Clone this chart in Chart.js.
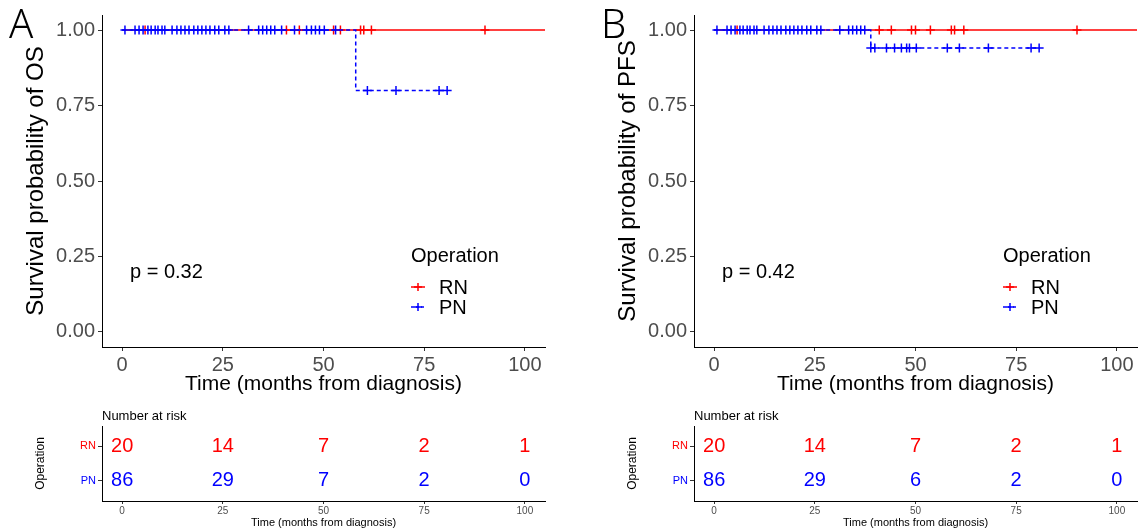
<!DOCTYPE html>
<html>
<head>
<meta charset="utf-8">
<script src="https://cdn.jsdelivr.net/npm/chart.js@4"></script>
<style>
  body { margin: 0; background: #fff; }
  .box { position: absolute; }
</style>
</head>
<body>
<div class="box" style="left:0;top:0;width:573px;height:400px"><canvas id="kmA"></canvas></div>
<div class="box" style="left:0;top:400px;width:573px;height:132px"><canvas id="riskA"></canvas></div>
<div class="box" style="left:592px;top:0;width:554px;height:400px"><canvas id="kmB"></canvas></div>
<div class="box" style="left:592px;top:400px;width:554px;height:132px"><canvas id="riskB"></canvas></div>
<script>
// axes / categories
const xTicks = [0, 25, 50, 75, 100];
const yTicks = [0, 0.25, 0.5, 0.75, 1];
const groups = ["RN", "PN"];

// panel A - overall survival
const osRnCensor = [5.7, 40.8, 44, 52.5, 54.2, 59.2, 60, 61.9, 90.1];
const osRnLast = 105;
const osPnEvents = [58];
const osPnSurv = [0.8];
const osPnCensor = [0.7, 3.2, 4.2, 5.2, 6.4, 7.2, 8.2, 8.9, 9.9, 10.6, 12.4, 13.6, 14.6,
  15.6, 16.6, 17.8, 18.8, 19.8, 20.8, 21.8, 23, 24, 25.5, 26.5, 31.4, 33.9, 34.9, 35.9,
  36.9, 37.9, 39.6, 42.8, 45.8, 47, 48, 49, 50.2, 53, 60.9, 68, 78.7, 80.7];
const osRiskRn = [20, 14, 7, 2, 1];
const osRiskPn = [86, 29, 7, 2, 0];

// panel B - progression free survival
const pfsRnCensor = [5.7, 41, 44, 49, 50, 53.7, 58.9, 59.7, 62, 90.1];
const pfsRnLast = 105;
const pfsPnEvents = [38.9];
const pfsPnSurv = [0.941];
const pfsPnCensor = [0.7, 3.2, 4.2, 5.2, 6.4, 7.2, 8.2, 8.9, 9.9, 10.6, 12.4, 13.6, 14.6,
  15.6, 16.6, 17.8, 18.8, 19.8, 20.8, 21.8, 23, 24, 25.5, 26.5, 31.2, 33.4, 34.4, 35.4,
  36.4, 37.4, 38.9, 39.9, 42.8, 44.8, 46.5, 47.8, 48.5, 50.2, 57.9, 60.9, 68.1, 78.7, 80.7];
const pfsRiskRn = [20, 14, 7, 2, 1];
const pfsRiskPn = [86, 29, 6, 2, 0];

const FONT = "'Liberation Sans', Arial, sans-serif";
const RED = "#FF0000";
const BLUE = "#0000FF";
const GREY = "#4D4D4D";

function survAt(events, surv, t) {
  let s = 1;
  events.forEach((e, i) => { if (e <= t) s = surv[i]; });
  return s;
}

function stepLine(events, surv, last) {
  const pts = [{ x: 0, y: 1 }];
  events.forEach((e, i) => pts.push({ x: e, y: surv[i] }));
  pts.push({ x: last, y: pts[pts.length - 1].y });
  return pts;
}

function drawCross(ctx, x, y, color, dashed) {
  ctx.save();
  ctx.strokeStyle = color;
  ctx.lineWidth = 1.5;
  if (dashed) ctx.setLineDash([3, 2]);
  ctx.beginPath();
  ctx.moveTo(x - 7, y); ctx.lineTo(x + 7, y);
  ctx.stroke();
  ctx.setLineDash([]);
  ctx.beginPath();
  ctx.moveTo(x - 4, y); ctx.lineTo(x + 4, y);
  ctx.moveTo(x, y - 4); ctx.lineTo(x, y + 4);
  ctx.stroke();
  ctx.restore();
}

function kmChart(id, letter, yTitle, pText, rnCensor, rnLast, pnEvents, pnSurv, pnCensor, padRight) {
  const rnLine = stepLine([], [], rnLast);
  const pnLine = stepLine(pnEvents, pnSurv, pnCensor[pnCensor.length - 1]);
  const rnMarks = rnCensor.map(t => ({ x: t, y: 1 }));
  const pnMarks = pnCensor.map(t => ({ x: t, y: survAt(pnEvents, pnSurv, t) }));

  const overlay = {
    id: "overlay" + letter,
    afterDraw(chart) {
      const c = chart.ctx;
      c.save();
      c.fillStyle = "#000";
      c.font = "300 40px 'Noto Sans', 'DejaVu Sans', sans-serif";
      c.textBaseline = "alphabetic";
      c.fillText(letter, 9, 38);
      c.font = "20px " + FONT;
      c.textBaseline = "middle";
      c.fillText(pText, 130, 272);
      c.fillText("Operation", 411, 256);
      c.fillText(groups[0], 439, 288);
      c.fillText(groups[1], 439, 308);
      c.restore();
      drawCross(c, 418, 287, RED, false);
      drawCross(c, 418, 307, BLUE, true);
    }
  };

  new Chart(document.getElementById(id), {
    type: "scatter",
    data: {
      datasets: [
        { label: "PN censor", data: pnMarks, pointStyle: "cross", pointRadius: 4.5,
          borderColor: BLUE, borderWidth: 1.5 },
        { label: "PN", type: "line", data: pnLine, stepped: true, borderColor: BLUE,
          borderDash: [4, 3], borderWidth: 1.5, pointRadius: 0, fill: false },
        { label: "RN censor", data: rnMarks, pointStyle: "cross", pointRadius: 4.5,
          borderColor: RED, borderWidth: 1.5 },
        { label: "RN", type: "line", data: rnLine, stepped: true, borderColor: RED,
          borderWidth: 1.5, pointRadius: 0, fill: false }
      ]
    },
    options: {
      responsive: true,
      maintainAspectRatio: false,
      animation: false,
      layout: { padding: { left: 20, top: 14, right: padRight, bottom: 0 } },
      plugins: { legend: { display: false }, tooltip: { enabled: false } },
      scales: {
        x: {
          type: "linear", min: -5, max: 105,
          afterBuildTicks: s => { s.ticks = xTicks.map(v => ({ value: v })); },
          afterFit: s => { s.height = 53; },
          ticks: { font: { family: FONT, size: 20 }, color: GREY, padding: 2, maxRotation: 0, autoSkip: false },
          grid: { drawOnChartArea: false, tickLength: 4, color: "#333" },
          border: { color: "#000", width: 1 },
          title: { display: true, text: "Time (months from diagnosis)", color: "#000",
            font: { family: FONT, size: 21 }, padding: { top: 0, bottom: 3 } }
        },
        y: {
          type: "linear", min: -0.05, max: 1.05,
          afterBuildTicks: s => { s.ticks = yTicks.map(v => ({ value: v })); },
          afterFit: s => { s.width = 82; },
          ticks: { font: { family: FONT, size: 20 }, color: GREY, padding: 3,
            callback: v => v.toFixed(2) },
          grid: { drawOnChartArea: false, tickLength: 4, color: "#333" },
          border: { color: "#000", width: 1 },
          title: { display: true, text: yTitle, color: "#000",
            font: { family: FONT, size: 24 }, padding: { top: 2, bottom: 0 } }
        }
      }
    },
    plugins: [overlay]
  });
}

function riskChart(id, riskRn, riskPn, padRight) {
  const numbers = {
    id: "numbers" + id,
    afterDatasetsDraw(chart) {
      const c = chart.ctx;
      c.save();
      c.font = "20px " + FONT;
      c.textAlign = "center";
      c.textBaseline = "middle";
      chart.data.datasets.forEach((ds, di) => {
        c.fillStyle = ds.borderColor;
        chart.getDatasetMeta(di).data.forEach((pt, i) => {
          c.fillText(String(ds.data[i].n), pt.x, pt.y);
        });
      });
      c.fillStyle = "#000";
      c.font = "13px " + FONT;
      c.textAlign = "left";
      c.fillText("Number at risk", chart.chartArea.left, 16);
      c.restore();
    }
  };

  new Chart(document.getElementById(id), {
    type: "scatter",
    data: {
      datasets: [
        { label: "RN", data: xTicks.map((t, i) => ({ x: t, y: 2, n: riskRn[i] })),
          borderColor: RED, pointRadius: 0 },
        { label: "PN", data: xTicks.map((t, i) => ({ x: t, y: 1, n: riskPn[i] })),
          borderColor: BLUE, pointRadius: 0 }
      ]
    },
    options: {
      responsive: true,
      maintainAspectRatio: false,
      animation: false,
      layout: { padding: { left: 29, top: 26, right: padRight, bottom: 0 } },
      plugins: { legend: { display: false }, tooltip: { enabled: false } },
      scales: {
        x: {
          type: "linear", min: -5, max: 105,
          afterBuildTicks: s => { s.ticks = xTicks.map(v => ({ value: v })); },
          afterFit: s => { s.height = 31; },
          ticks: { font: { family: FONT, size: 10 }, color: GREY, padding: 1, maxRotation: 0, autoSkip: false },
          grid: { drawOnChartArea: false, tickLength: 3, color: "#333" },
          border: { color: "#000", width: 1 },
          title: { display: true, text: "Time (months from diagnosis)", color: "#000",
            font: { family: FONT, size: 11 }, padding: { top: 0, bottom: 2 } }
        },
        y: {
          type: "linear", min: 0.4, max: 2.6,
          afterBuildTicks: s => { s.ticks = [2, 1].map(v => ({ value: v })); },
          afterFit: s => { s.width = 73; },
          ticks: { font: { family: FONT, size: 11 }, padding: 2,
            color: c => (c.tick && c.tick.value === 2 ? RED : BLUE),
            callback: v => (v === 2 ? groups[0] : groups[1]) },
          grid: { drawOnChartArea: false, tickLength: 4, color: "#333" },
          border: { color: "#000", width: 1 },
          title: { display: true, text: "Operation", color: "#000",
            font: { family: FONT, size: 12 }, padding: { top: 4, bottom: 0 } }
        }
      }
    },
    plugins: [numbers]
  });
}

kmChart("kmA", "A", "Survival probability of OS", "p = 0.32",
  osRnCensor, osRnLast, osPnEvents, osPnSurv, osPnCensor, 28);
kmChart("kmB", "B", "Survival probability of PFS", "p = 0.42",
  pfsRnCensor, pfsRnLast, pfsPnEvents, pfsPnSurv, pfsPnCensor, 9);
riskChart("riskA", osRiskRn, osRiskPn, 28);
riskChart("riskB", pfsRiskRn, pfsRiskPn, 9);
</script>
</body>
</html>
